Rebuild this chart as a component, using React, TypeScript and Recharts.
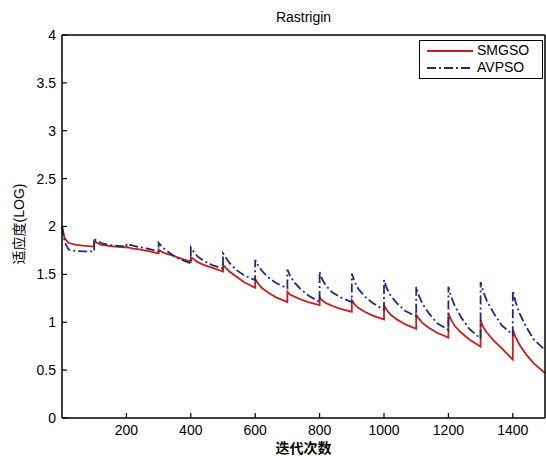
import React from 'react';
import { LineChart, Line, XAxis, YAxis, Legend, Label } from 'recharts';

// iteration stamps: every 100 iterations the swarm is re-seeded, so each restart
// point appears twice (value before the jump, value after it)
const iterations = [
  0, 8, 20, 40, 65, 100,
  100, 108, 120, 140, 165, 200,
  200, 208, 220, 240, 265, 300,
  300, 308, 320, 340, 365, 400,
  400, 408, 420, 440, 465, 500,
  500, 508, 520, 540, 565, 600,
  600, 608, 620, 640, 665, 700,
  700, 708, 720, 740, 765, 800,
  800, 808, 820, 840, 865, 900,
  900, 908, 920, 940, 965, 1000,
  1000, 1008, 1020, 1040, 1065, 1100,
  1100, 1108, 1120, 1140, 1165, 1200,
  1200, 1208, 1220, 1240, 1265, 1300,
  1300, 1308, 1320, 1340, 1365, 1400,
  1400, 1408, 1420, 1440, 1465, 1500,
];

const smgso = [
  2.0, 1.88, 1.83, 1.81, 1.8, 1.79,
  1.85, 1.83, 1.81, 1.8, 1.79, 1.78,
  1.79, 1.78, 1.77, 1.76, 1.745, 1.72,
  1.76, 1.74, 1.72, 1.7, 1.67, 1.63,
  1.68, 1.66, 1.63, 1.6, 1.57, 1.53,
  1.6, 1.57, 1.53, 1.48, 1.42, 1.36,
  1.45, 1.41, 1.36, 1.31, 1.26, 1.21,
  1.32, 1.29, 1.27, 1.24, 1.21, 1.18,
  1.26, 1.23, 1.2, 1.17, 1.14, 1.11,
  1.23, 1.19, 1.15, 1.11, 1.07, 1.03,
  1.18, 1.13, 1.08, 1.03, 0.98, 0.93,
  1.08, 1.04, 0.99, 0.94, 0.89, 0.84,
  1.09, 1.03, 0.96, 0.89, 0.82, 0.745,
  1.02, 0.95, 0.89, 0.81, 0.73, 0.61,
  0.92, 0.85, 0.77, 0.67, 0.57, 0.47,
];

const avpso = [
  2.0, 1.84, 1.76, 1.745, 1.74, 1.74,
  1.87, 1.85, 1.83, 1.81, 1.8, 1.79,
  1.82, 1.81, 1.8, 1.785, 1.77, 1.74,
  1.83, 1.8, 1.76, 1.71, 1.66, 1.615,
  1.78, 1.74, 1.69, 1.64, 1.6, 1.56,
  1.72, 1.68, 1.62, 1.55, 1.49, 1.44,
  1.65, 1.6, 1.54, 1.47, 1.41, 1.355,
  1.55, 1.49, 1.42, 1.35, 1.28, 1.21,
  1.53, 1.45, 1.38, 1.31, 1.26, 1.21,
  1.51, 1.43, 1.35, 1.27, 1.2, 1.13,
  1.44, 1.36, 1.28, 1.2, 1.12, 1.06,
  1.37, 1.28, 1.19, 1.09, 0.99, 0.92,
  1.37, 1.27, 1.17, 1.05, 0.93, 0.83,
  1.42, 1.32, 1.22, 1.1, 0.97, 0.87,
  1.33, 1.22, 1.1, 0.96, 0.82, 0.71,
];

const xTicks = [200, 400, 600, 800, 1000, 1200, 1400];
const yTicks = [0, 0.5, 1, 1.5, 2, 2.5, 3, 3.5, 4];

const seriesNames = ['SMGSO', 'AVPSO'];
const seriesColors = ['#c81e1e', '#1f2a80'];
const seriesDashes = [undefined, '9 3 2 3'];

const FONT = "'Liberation Sans', Arial, 'Noto Sans CJK SC', sans-serif";

const data = iterations.map((iter, i) => ({ iter, smgso: smgso[i], avpso: avpso[i] }));

const axisLine = { stroke: '#000', strokeWidth: 1.5 };
const tickLine = { stroke: '#000', strokeWidth: 1.2 };
const tickStyle = { fill: '#000', fontSize: 14, fontFamily: FONT };

const renderLegend = () => (
  <div
    style={{
      border: '1.5px solid #000',
      background: '#fff',
      width: 124,
      height: 39,
      boxSizing: 'border-box',
      padding: '1px 0 0 7px',
      fontFamily: FONT,
      fontSize: 14,
      color: '#000',
    }}
  >
    {seriesNames.map((name, i) => (
      <div key={name} style={{ display: 'flex', alignItems: 'center', height: 17 }}>
        <svg width={46} height={4}>
          <line x1={0} y1={2} x2={46} y2={2} stroke={seriesColors[i]} strokeWidth={1.8} strokeDasharray={seriesDashes[i]} />
        </svg>
        <span style={{ marginLeft: 4, lineHeight: '17px' }}>{name}</span>
      </div>
    ))}
  </div>
);

const YTitle = () => (
  <text
    x={19}
    y={224}
    transform="rotate(-90 19 224)"
    textAnchor="middle"
    dominantBaseline="central"
    fontSize={14}
    fontFamily={FONT}
    fill="#000"
  >
    适应度(LOG)
  </text>
);

export default function App() {
  return (
    <div style={{ position: 'absolute', left: 0, top: 0, width: 546, height: 456, background: '#fff' }}>
      <LineChart width={546} height={456} data={data} margin={{ top: 34, right: 0, bottom: 0, left: 0 }}>
        <XAxis
          dataKey="iter"
          type="number"
          domain={[0, 1500]}
          ticks={xTicks}
          height={38}
          axisLine={axisLine}
          tickLine={tickLine}
          tickSize={-5}
          tickMargin={12}
          tick={tickStyle}
        >
          <Label
            value="迭代次数"
            position="insideBottom"
            offset={3}
            style={{ fontSize: 14, fill: '#000', fontFamily: FONT, fontWeight: 600 }}
          />
        </XAxis>
        <XAxis
          xAxisId="top"
          orientation="top"
          type="number"
          dataKey="iter"
          domain={[0, 1500]}
          ticks={xTicks}
          height={1}
          axisLine={axisLine}
          tickLine={tickLine}
          tickSize={5}
          tick={false}
        >
          <Label value="Rastrigin" position="top" offset={12} style={{ fontSize: 14, fill: '#000', fontFamily: FONT }} />
        </XAxis>
        <YAxis
          type="number"
          domain={[0, 4]}
          ticks={yTicks}
          width={62}
          axisLine={axisLine}
          tickLine={tickLine}
          tickSize={-5}
          tickMargin={11}
          tick={tickStyle}
        >
          <Label content={<YTitle />} />
        </YAxis>
        <YAxis
          yAxisId="right"
          orientation="right"
          type="number"
          domain={[0, 4]}
          ticks={yTicks}
          width={1}
          axisLine={axisLine}
          tickLine={tickLine}
          tickSize={-5}
          tick={false}
        />
        <Legend
          layout="horizontal"
          verticalAlign="middle"
          align="center"
          wrapperStyle={{ top: 40, left: 419, width: 124 }}
          content={renderLegend}
        />
        <Line
          dataKey="smgso"
          name="SMGSO"
          type="linear"
          stroke={seriesColors[0]}
          strokeWidth={1.8}
          dot={false}
          isAnimationActive={false}
        />
        <Line
          dataKey="avpso"
          name="AVPSO"
          type="linear"
          stroke={seriesColors[1]}
          strokeWidth={1.8}
          strokeDasharray={seriesDashes[1]}
          dot={false}
          isAnimationActive={false}
        />
      </LineChart>
    </div>
  );
}
